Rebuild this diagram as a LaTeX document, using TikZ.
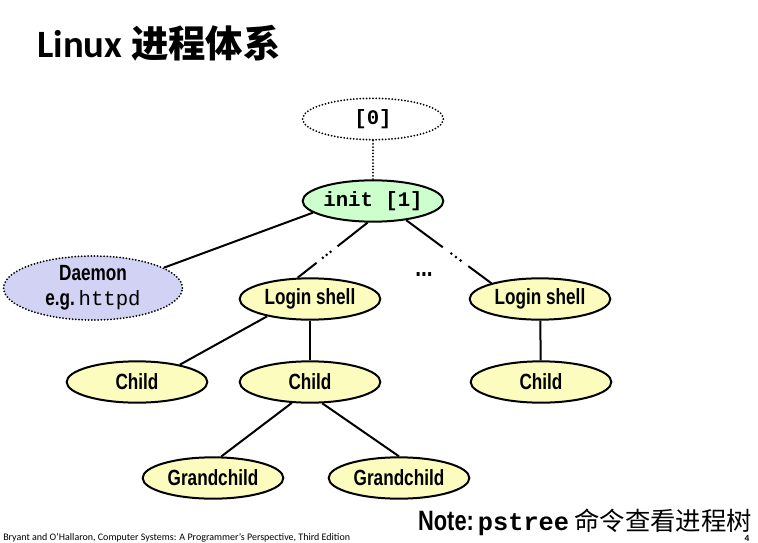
\documentclass[tikz,border=0pt]{standalone}
\usepackage{fontspec}
\setmainfont{Carlito}
\setmonofont{Liberation Mono}
\newfontfamily\narrowsans[FakeStretch=0.78]{Liberation Sans}
\newfontfamily\cjk{Noto Sans CJK SC}
\usetikzlibrary{shapes.geometric, calc}
\definecolor{initgreen}{RGB}{204, 255, 204}
\definecolor{shellyellow}{RGB}{252, 252, 190}
\definecolor{daemonblue}{RGB}{210, 210, 245}
\newcommand{\pid}[1]{{\ttfamily\bfseries\fontsize{15.5}{18}\selectfont #1}}

\tikzset{
  proc/.style={ellipse, draw, line width=1.5pt, inner sep=0pt,
    minimum width=105.5pt, minimum height=31pt,
    font=\narrowsans\bfseries\fontsize{16.5}{18}\selectfont},
  ghost/.style={dash pattern=on 0pt off 2.4pt, line cap=round},
  link/.style={line width=1.5pt}
}

\begin{document}
\begin{tikzpicture}[x=0.75pt, y=-0.75pt]
  \useasboundingbox (0, 0) rectangle (758, 543);

  % title
  \node[anchor=base west, inner sep=0pt, font=\bfseries\fontsize{29}{32}\selectfont] (title) at (37, 57)
    {Linux {\cjk\bfseries\fontsize{28}{32}\selectfont 进程体系}};

  % process tree
  \node[proc, ghost, fill=white] (zero) at (373, 119) {\pid{[0]}};
  \node[proc, fill=initgreen] (init) at (373, 201) {\pid{init [1]}};
  \node[proc, ghost, fill=daemonblue, minimum width=134pt, minimum height=48pt, align=center] (daemon) at (93, 288)
    {Daemon\\[1pt]e.g.\,{\ttfamily\mdseries\fontsize{15.5}{18}\selectfont httpd}};
  \node[proc, fill=shellyellow] (shellA) at (310, 299) {Login shell};
  \node[proc, fill=shellyellow] (shellB) at (540, 299) {Login shell};
  \node[font=\narrowsans\bfseries\fontsize{20}{22}\selectfont] (more) at (424, 275) {...};
  \node[proc, fill=shellyellow] (childA) at (137, 382) {Child};
  \node[proc, fill=shellyellow] (childB) at (310, 382) {Child};
  \node[proc, fill=shellyellow] (childC) at (541, 382) {Child};
  \node[proc, fill=shellyellow] (grandA) at (213, 478) {Grandchild};
  \node[proc, fill=shellyellow] (grandB) at (399, 478) {Grandchild};

  % connectors
  \draw[link, ghost] (zero) -- (init);
  \draw[link] (init.191) -- (daemon.16);
  \foreach \a/\b in {init.-104/shellA.120, init.-30/shellB.162} {
    \draw[link] (\a) -- ($(\a)!0.43!(\b)$);
    \foreach \p in {0.53, 0.585, 0.64}
      \fill ($(\a)!\p!(\b)$) circle (1.1pt);
    \draw[link] ($(\a)!0.73!(\b)$) -- (\b);
  }
  \draw[link] (shellA.202) -- (childA.22);
  \draw[link] (shellA) -- (childB);
  \draw[link] (shellB) -- (childC);
  \draw[link] (childB.229) -- (grandA.69);
  \draw[link] (childB.-60) -- (grandB.north);

  % note and footer
  \node[anchor=base east, inner sep=0pt] (note) at (752, 530)
    {{\narrowsans\bfseries\fontsize{21}{22}\selectfont Note:}
     {\ttfamily\bfseries\fontsize{19}{22}\selectfont pstree}\,
     {\cjk\fontsize{19}{22}\selectfont 命令查看进程树}};
  \node[anchor=base west, inner sep=0pt, font=\fontsize{7.5}{9}\selectfont] (credit) at (3, 540)
    {Bryant and O’Hallaron, Computer Systems: A Programmer’s Perspective, Third Edition};
  \node[anchor=base, inner sep=0pt, font=\bfseries\fontsize{7}{8}\selectfont] (page) at (747, 541) {4};
\end{tikzpicture}
\end{document}
